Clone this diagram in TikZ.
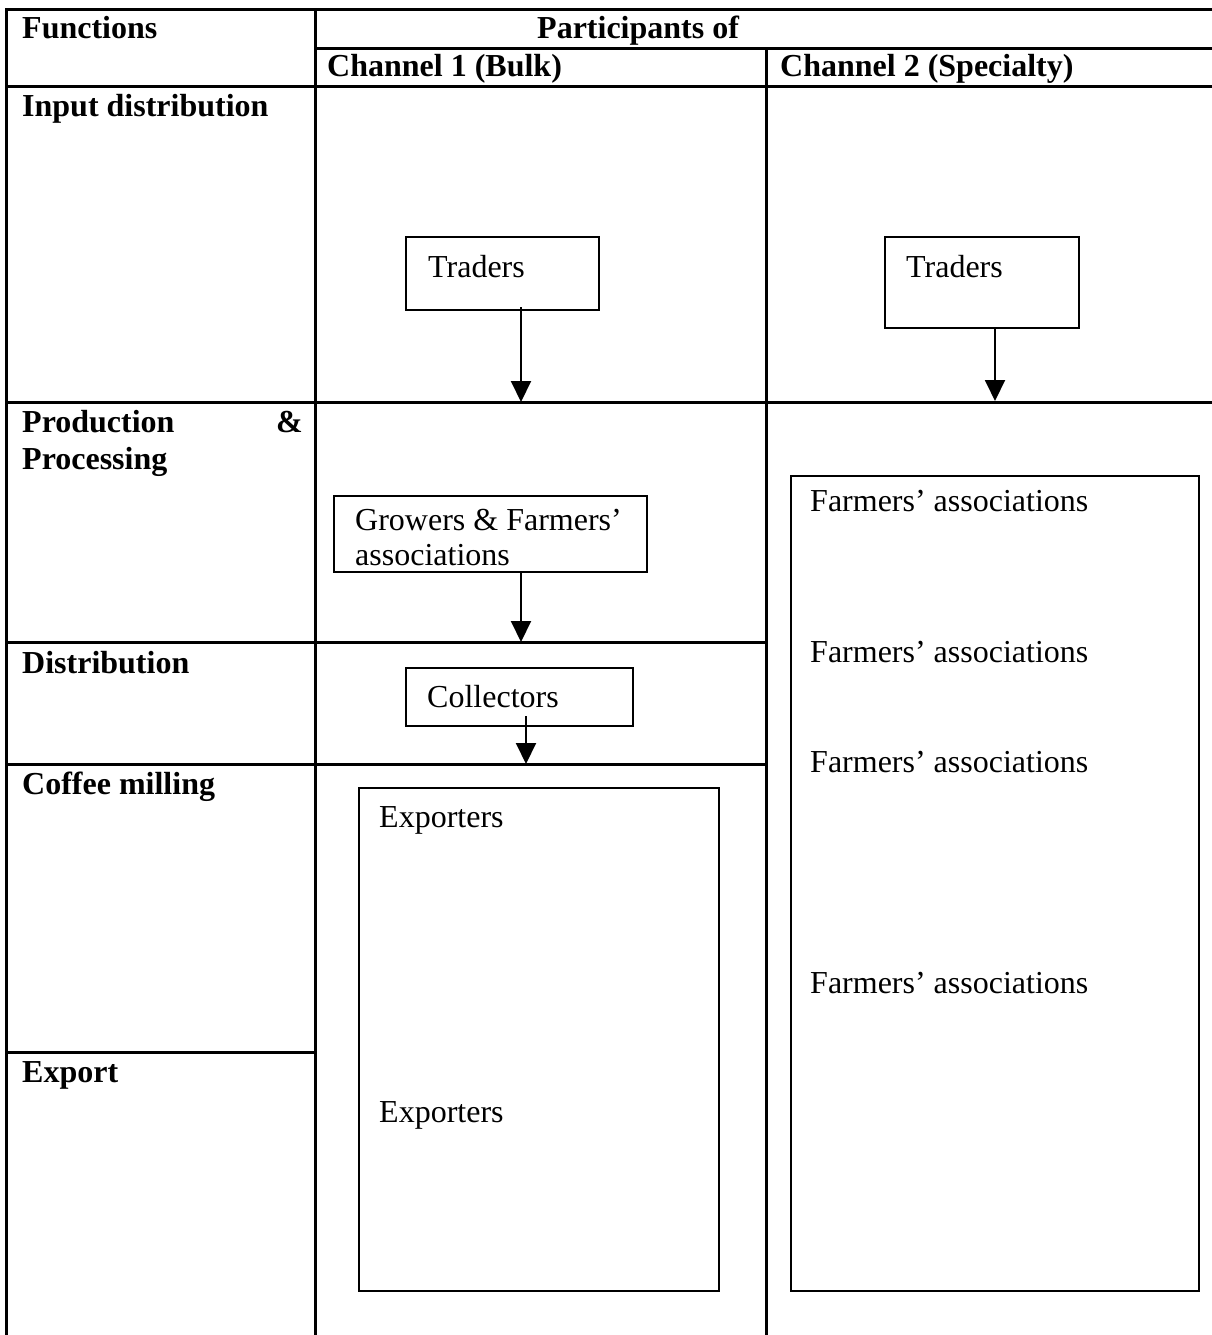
\documentclass[tikz,border=0pt]{standalone}
\usepackage{fontspec}
\setmainfont{Liberation Serif}
\usetikzlibrary{arrows.meta}
\begin{document}
\begin{tikzpicture}[x=1pt,y=-1pt,
  grid/.style={line width=3pt,line cap=rect},
  box/.style={draw,line width=2pt,anchor=north west,inner sep=0pt},
  bigbox/.style={draw,line width=2.4pt,anchor=north west,inner sep=0pt},
  txt/.style={anchor=base west,inner sep=0pt,font=\fontsize{32}{37}\selectfont},
  hd/.style={txt,font=\fontsize{32}{37}\selectfont\bfseries},
  arr/.style={line width=2pt,-{Triangle[length=21pt,width=20pt]}}]
\useasboundingbox (0,0) rectangle (1211,1335);
% table grid
\draw[grid] (6,10) -- (1215,10);
\draw[grid] (315,49) -- (1215,49);
\draw[grid] (6,87) -- (1215,87);
\draw[grid] (6,402) -- (1215,402);
\draw[grid] (6,642) -- (766,642);
\draw[grid] (6,764) -- (766,764);
\draw[grid] (6,1052) -- (315,1052);
\draw[grid] (6,10) -- (6,1340);
\draw[grid] (315,10) -- (315,1340);
\draw[grid] (766,49) -- (766,1340);
% headers
\node[hd] (hfun) at (22,39) {Functions};
\node[hd] (hpart) at (537,39) {Participants of};
\node[hd] (hch1) at (327,77) {Channel 1 (Bulk)};
\node[hd] (hch2) at (780,77) {Channel 2 (Specialty)};
\node[hd] (finput) at (22,117) {Input distribution};
\node[hd] (fprod) at (22,432) {Production};
\node[hd] (famp) at (276,432) {\&};
\node[hd] (fproc) at (22,469) {Processing};
\node[hd] (fdist) at (22,673) {Distribution};
\node[hd] (fmill) at (22,794) {Coffee milling};
\node[hd] (fexp) at (22,1082) {Export};
% channel 1 boxes
\node[box,minimum width=193pt,minimum height=73pt] (tr1) at (405,236) {};
\node[txt] (tr1t) at (428,277) {Traders};
\node[box,minimum width=313pt,minimum height=76pt] (gr) at (333,495) {};
\node[txt] (grt1) at (355,530) {Growers \& Farmers’};
\node[txt] (grt2) at (355,565) {associations};
\node[box,minimum width=227pt,minimum height=58pt] (col) at (405,667) {};
\node[txt] (colt) at (427,707) {Collectors};
\node[bigbox,minimum width=360pt,minimum height=503pt] (exb) at (358,787) {};
\node[txt] (ext1) at (379,827) {Exporters};
\node[txt] (ext2) at (379,1122) {Exporters};
% channel 2 boxes
\node[box,minimum width=194pt,minimum height=91pt] (tr2) at (884,236) {};
\node[txt] (tr2t) at (906,277) {Traders};
\node[bigbox,minimum width=408pt,minimum height=815pt] (fab) at (790,475) {};
\node[txt] (fa1) at (810,511) {Farmers’ associations};
\node[txt] (fa2) at (810,662) {Farmers’ associations};
\node[txt] (fa3) at (810,772) {Farmers’ associations};
\node[txt] (fa4) at (810,993) {Farmers’ associations};
% arrows
\coordinate (e1) at (521,402);
\coordinate (e2) at (995,401);
\coordinate (e3) at (521,642);
\coordinate (e4) at (526,764);
\draw[arr] (tr1.south west -| e1) ++(0,-4) -- (e1);
\draw[arr] (tr2.south west -| e2) -- (e2);
\draw[arr] (gr.south west -| e3) -- (e3);
\draw[arr] (col.south west -| e4) ++(0,-11) -- (e4);
\end{tikzpicture}
\end{document}
